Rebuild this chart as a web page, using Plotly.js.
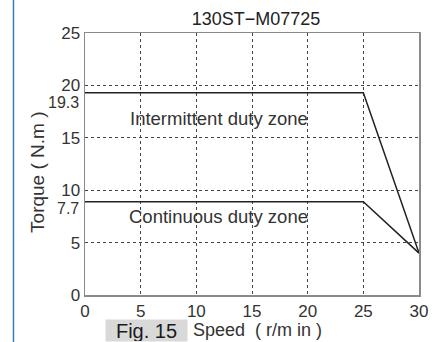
<!DOCTYPE html>
<html>
<head>
<meta charset="utf-8">
<script src="https://cdn.plot.ly/plotly-3.0.1.min.js"></script>
<style>html,body{margin:0;padding:0;background:#fff;}#chart{width:442px;height:342px;}</style>
</head>
<body>
<div id="chart"></div>
<script>
// Data
const speed = [0, 25, 30];
const intermittentTorque = [19.3, 19.3, 4];
const continuousTorque = [8.9, 8.9, 4];
const xTicks = [0, 5, 10, 15, 20, 25, 30];
const yTicks = [0, 5, 10, 15, 20, 25];
const ratedLabels = ["19.3", "7.7"];
const zoneLabels = ["Intermittent duty zone", "Continuous duty zone"];
const chartTitle = "130ST\u2212M07725";

const FONT = "Liberation Sans, Arial, sans-serif";
const TXT = "#333";

const traces = [
  {x: speed, y: intermittentTorque, mode: "lines", line: {color: "#222", width: 1.5}, hoverinfo: "skip", showlegend: false},
  {x: speed, y: continuousTorque, mode: "lines", line: {color: "#222", width: 1.5}, hoverinfo: "skip", showlegend: false}
];

const axisCommon = {
  showline: true, mirror: true, linecolor: "#8a8a8a", linewidth: 1.5,
  showgrid: true, gridcolor: "#444", griddash: "dot", gridwidth: 1,
  zeroline: false, ticks: "", tickfont: {family: FONT, size: 17, color: TXT},
  fixedrange: true
};

const layout = {
  width: 442, height: 342,
  margin: {l: 85, r: 23, t: 33, b: 47},
  paper_bgcolor: "#fff", plot_bgcolor: "#fff",
  font: {family: FONT, color: TXT},
  title: {text: chartTitle, font: {family: FONT, size: 18, color: "#222"}, x: 0.512, xref: "paper", xanchor: "center", y: 0.944, yref: "container", yanchor: "middle"},
  xaxis: Object.assign({}, axisCommon, {range: [0, 30], tickvals: xTicks, ticktext: xTicks.map(String)}),
  yaxis: Object.assign({}, axisCommon, {range: [0, 25], tickvals: yTicks, ticktext: yTicks.map(String)}),
  shapes: [
    {type: "line", xref: "paper", yref: "paper", x0: -0.2141, x1: -0.2141, y0: -0.2, y1: 1.2, line: {color: "#3a7fb8", width: 1.5}}
  ],
  annotations: [
    {text: ratedLabels[0], xref: "paper", yref: "y", x: 0, y: intermittentTorque[0], xanchor: "right", yanchor: "middle", xshift: -4, yshift: -10, showarrow: false, font: {family: FONT, size: 16, color: TXT}},
    {text: ratedLabels[1], xref: "paper", yref: "y", x: 0, y: continuousTorque[0], xanchor: "right", yanchor: "middle", xshift: -4, yshift: -7, showarrow: false, font: {family: FONT, size: 16, color: TXT}},
    {text: zoneLabels[0], xref: "x", yref: "y", x: 12, y: 16.8, xanchor: "center", yanchor: "middle", showarrow: false, font: {family: FONT, size: 18.5, color: TXT}},
    {text: zoneLabels[1], xref: "x", yref: "y", x: 12, y: 7.5, xanchor: "center", yanchor: "middle", showarrow: false, font: {family: FONT, size: 18.5, color: TXT}},
    {text: "Torque ( N.m )", xref: "paper", yref: "paper", x: -0.1407, y: 0.466, xanchor: "center", yanchor: "middle", textangle: -90, showarrow: false, font: {family: FONT, size: 19, color: TXT}},
    {text: "Speed \u00a0( r/m in )", xref: "paper", yref: "paper", x: 0.515, y: -0.1336, xanchor: "center", yanchor: "middle", showarrow: false, font: {family: FONT, size: 18, color: TXT}},
    {text: "Fig. 15", xref: "paper", yref: "paper", x: 0.1856, y: -0.1794, xanchor: "center", yanchor: "bottom", width: 81, height: 21, bgcolor: "#d9d9d9", borderpad: 0, showarrow: false, font: {family: FONT, size: 20, color: "#1a1a1a"}}
  ]
};

Plotly.newPlot("chart", traces, layout, {staticPlot: true, displayModeBar: false});
</script>
</body>
</html>
